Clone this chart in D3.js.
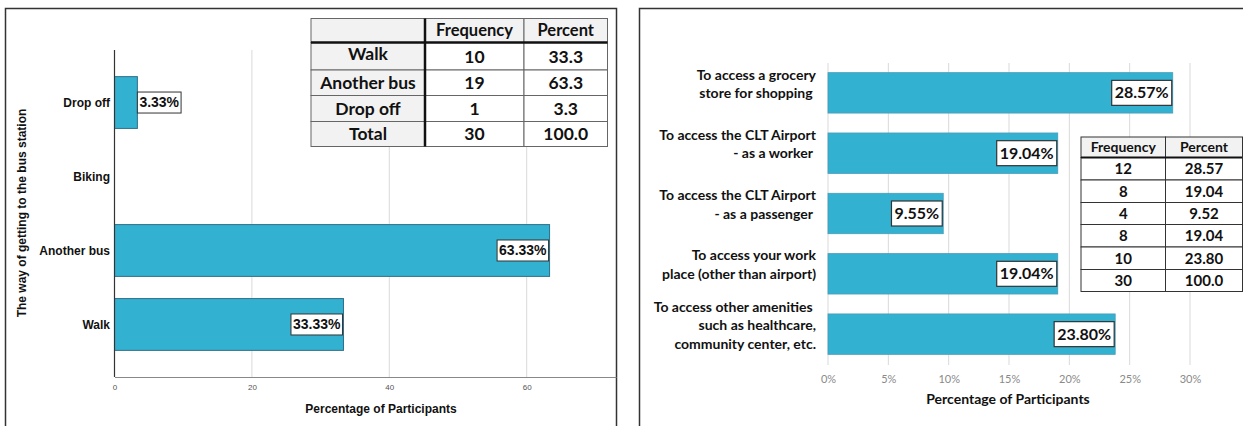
<!DOCTYPE html>
<html>
<head>
<meta charset="utf-8">
<script src="https://cdn.jsdelivr.net/npm/d3@7"></script>
<style>
  html, body { margin: 0; padding: 0; background: #fff; }
  svg { display: block; }
</style>
</head>
<body>
<div id="chart"></div>
<script>
// Données panneau gauche
const leftCategories = ["Drop off", "Biking", "Another bus", "Walk"];
const leftValues = [3.33, 0, 63.33, 33.33];
const leftTicks = [0, 20, 40, 60];
const leftTableHeader = ["", "Frequency", "Percent"];
const leftTableLabels = ["Walk", "Another bus", "Drop off", "Total"];
const leftTableFreq = ["10", "19", "1", "30"];
const leftTablePct = ["33.3", "63.3", "3.3", "100.0"];

// Données panneau droit
const rightCategories = [
  ["To access a grocery", "store for shopping "],
  ["To access the CLT Airport", "- as a worker "],
  ["To access the CLT Airport", "- as a passenger "],
  ["To access your work", "place (other than airport)"],
  ["To access other amenities ", "such as healthcare,", "community center, etc."]
];
const rightValues = [28.57, 19.04, 9.55, 19.04, 23.80];
const rightTicks = [0, 5, 10, 15, 20, 25, 30];
const rightTableHeader = ["Frequency", "Percent"];
const rightTableFreq = ["12", "8", "4", "8", "10", "30"];
const rightTablePct = ["28.57", "19.04", "9.52", "19.04", "23.80", "100.0"];

const barColor = "#33b1d0";
const barStroke = "#2f6f88";
const arial = "'Liberation Sans', Arial, sans-serif";
const calibri = "Lato, 'Open Sans', sans-serif";

const svg = d3.select("#chart")
  .append("svg")
  .attr("width", 1243)
  .attr("height", 426);

svg.append("rect").attr("width", 1243).attr("height", 426).attr("fill", "#fff");

//---------------------------------------------------------------------------------------
// Panneau gauche

const gL = svg.append("g");

gL.append("rect")
  .attr("x", 5.5).attr("y", 8.5)
  .attr("width", 611).attr("height", 430)
  .attr("fill", "none").attr("stroke", "#333").attr("stroke-width", 1.5);

const xL = d3.scaleLinear().domain([0, 73]).range([114.5, 616]);
const yL = d3.scaleBand().domain(leftCategories).range([50, 377])
  .paddingInner(0.3).paddingOuter(0.36);

// lignes de grille
gL.append("g")
  .selectAll("line")
  .data(leftTicks.filter(d => d > 0))
  .join("line")
  .attr("x1", d => xL(d)).attr("x2", d => xL(d))
  .attr("y1", 50).attr("y2", 377)
  .attr("stroke", "#d9d9d9").attr("stroke-width", 1);

// axe X
gL.append("g")
  .attr("transform", `translate(0, 377)`)
  .call(d3.axisBottom(xL).tickValues(leftTicks).tickSize(0).tickPadding(7))
  .call(g => g.select(".domain").attr("stroke", "#888").attr("stroke-width", 1.2))
  .selectAll("text")
  .attr("fill", "#555")
  .style("font-family", arial)
  .style("font-size", "8px");

// barres
gL.append("g")
  .selectAll("rect")
  .data(leftValues.map((v, i) => ({ cat: leftCategories[i], v })).filter(d => d.v > 0))
  .join("rect")
  .attr("x", xL(0))
  .attr("y", d => yL(d.cat))
  .attr("width", d => xL(d.v) - xL(0))
  .attr("height", yL.bandwidth())
  .attr("fill", barColor)
  .attr("stroke", barStroke)
  .attr("stroke-width", 1);

// axe Y
gL.append("line")
  .attr("x1", xL(0)).attr("x2", xL(0))
  .attr("y1", 50).attr("y2", 377)
  .attr("stroke", "#333").attr("stroke-width", 1.2);

gL.append("g")
  .selectAll("text")
  .data(leftCategories)
  .join("text")
  .attr("x", 110)
  .attr("y", d => yL(d) + yL.bandwidth() / 2)
  .attr("dy", "0.35em")
  .attr("text-anchor", "end")
  .style("font-family", arial)
  .style("font-size", "12px")
  .style("font-weight", "bold")
  .attr("fill", "#111")
  .text(d => d);

// étiquettes de valeurs
const labL = gL.append("g")
  .selectAll("g")
  .data(leftValues.map((v, i) => ({ cat: leftCategories[i], v })).filter(d => d.v > 0))
  .join("g");

labL.append("text")
  .style("font-family", arial)
  .style("font-size", "14px")
  .style("font-weight", "bold")
  .attr("fill", "#111")
  .attr("dy", "0.35em")
  .text(d => d.v.toFixed(2) + "%");

labL.each(function (d) {
  const g = d3.select(this);
  const w = g.select("text").node().getComputedTextLength() + 4;
  const h = 21;
  const end = xL(d.v);
  const inside = end - xL(0) > w + 4;
  const x0 = inside ? end - 1 - w : end;
  const cy = yL(d.cat) + yL.bandwidth() / 2;
  g.insert("rect", "text")
    .attr("x", x0).attr("y", cy - h / 2)
    .attr("width", w).attr("height", h)
    .attr("fill", "#fff").attr("stroke", "#333").attr("stroke-width", 1);
  g.select("text").attr("x", x0 + 2).attr("y", cy);
});

// titres des axes
gL.append("text")
  .attr("x", 381).attr("y", 413)
  .attr("text-anchor", "middle")
  .style("font-family", arial).style("font-size", "12px").style("font-weight", "bold")
  .attr("fill", "#111")
  .text("Percentage of Participants");

gL.append("text")
  .attr("transform", "translate(26, 213) rotate(-90)")
  .attr("text-anchor", "middle")
  .style("font-family", arial).style("font-size", "12px").style("font-weight", "bold")
  .attr("fill", "#111")
  .text("The way of getting to the bus station");

// tableau gauche
const colL = [311, 425, 524, 607.5];
const rowL = [18.5, 42.5, 70, 95.5, 121.5, 146.5];
const tL = gL.append("g");

const cellsL = [leftTableHeader].concat(leftTableLabels.map((l, i) => [l, leftTableFreq[i], leftTablePct[i]]));

cellsL.forEach((row, r) => {
  row.forEach((txt, c) => {
    tL.append("rect")
      .attr("x", colL[c]).attr("y", rowL[r])
      .attr("width", colL[c + 1] - colL[c]).attr("height", rowL[r + 1] - rowL[r])
      .attr("fill", r === 0 || c === 0 ? "#f2f2f2" : "#fff")
      .attr("stroke", "#666").attr("stroke-width", 1);
    tL.append("text")
      .attr("x", (colL[c] + colL[c + 1]) / 2)
      .attr("y", (rowL[r] + rowL[r + 1]) / 2 + (r === 1 && c === 0 ? -3 : 0))
      .attr("dy", "0.36em")
      .attr("text-anchor", "middle")
      .style("font-family", calibri)
      .style("font-size", r === 0 ? "16.5px" : "17.5px")
      .style("font-weight", "bold")
      .attr("fill", "#111")
      .text(txt);
  });
});

tL.append("line")
  .attr("x1", colL[0]).attr("x2", colL[3]).attr("y1", rowL[1]).attr("y2", rowL[1])
  .attr("stroke", "#111").attr("stroke-width", 2.5);
tL.append("line")
  .attr("x1", colL[1]).attr("x2", colL[1]).attr("y1", rowL[0]).attr("y2", rowL[5])
  .attr("stroke", "#111").attr("stroke-width", 2.5);

//---------------------------------------------------------------------------------------
// Panneau droit

const gR = svg.append("g");

gR.append("rect")
  .attr("x", 639.5).attr("y", 8.5)
  .attr("width", 640).attr("height", 430)
  .attr("fill", "none").attr("stroke", "#333").attr("stroke-width", 1.5);

const xR = d3.scaleLinear().domain([0, 30]).range([828, 1190]);
const keysR = rightCategories.map(d => d.join(" "));
const yR = d3.scaleBand().domain(keysR).range([63, 364])
  .paddingInner(0.33).paddingOuter(0.16);

// grille
gR.append("g")
  .selectAll("line")
  .data(rightTicks)
  .join("line")
  .attr("x1", d => xR(d)).attr("x2", d => xR(d))
  .attr("y1", 63).attr("y2", 365)
  .attr("stroke", "#d9d9d9").attr("stroke-width", 1);

// axe X
gR.append("g")
  .attr("transform", `translate(0, 365)`)
  .call(d3.axisBottom(xR).tickValues(rightTicks).tickSize(0).tickPadding(10).tickFormat(d => d + "%"))
  .call(g => g.select(".domain").remove())
  .selectAll("text")
  .attr("fill", "#8a8a8a")
  .style("font-family", calibri)
  .style("font-size", "11px");

// barres
gR.append("g")
  .selectAll("rect")
  .data(rightValues)
  .join("rect")
  .attr("x", xR(0))
  .attr("y", (d, i) => yR(keysR[i]))
  .attr("width", d => xR(d) - xR(0))
  .attr("height", yR.bandwidth())
  .attr("fill", barColor)
  .attr("stroke", "#4a9cb8")
  .attr("stroke-width", 0.8);

// étiquettes catégories (plusieurs lignes)
const catR = gR.append("g")
  .selectAll("text")
  .data(rightCategories)
  .join("text")
  .attr("text-anchor", "end")
  .style("font-family", calibri)
  .style("font-size", "14px")
  .style("font-weight", "bold")
  .attr("fill", "#111");

catR.each(function (lines, i) {
  const cy = yR(keysR[i]) + yR.bandwidth() / 2 - 9;
  const lh = 18.5;
  d3.select(this)
    .selectAll("tspan")
    .data(lines)
    .join("tspan")
    .attr("x", 816)
    .attr("y", (d, j) => cy + (j - (lines.length - 1) / 2) * lh)
    .attr("dy", "0.35em")
    .style("white-space", "pre")
    .text(d => d);
});

// étiquettes de valeurs
const labR = gR.append("g")
  .selectAll("g")
  .data(rightValues)
  .join("g");

labR.append("text")
  .style("font-family", calibri)
  .style("font-size", "16px")
  .style("font-weight", "bold")
  .attr("fill", "#111")
  .attr("dy", "0.35em")
  .text(d => d.toFixed(2) + "%");

labR.each(function (d, i) {
  const g = d3.select(this);
  const w = g.select("text").node().getComputedTextLength() + 6;
  const h = 25;
  const x0 = xR(d) - 1 - w;
  const cy = yR(keysR[i]) + yR.bandwidth() / 2;
  g.insert("rect", "text")
    .attr("x", x0).attr("y", cy - h / 2)
    .attr("width", w).attr("height", h)
    .attr("fill", "#fff").attr("stroke", "#333").attr("stroke-width", 1.2);
  g.select("text").attr("x", x0 + 3).attr("y", cy);
});

// titre axe X
gR.append("text")
  .attr("x", 1008).attr("y", 404)
  .attr("text-anchor", "middle")
  .style("font-family", calibri).style("font-size", "14px").style("font-weight", "bold")
  .attr("fill", "#111")
  .text("Percentage of Participants");

// tableau droit
const colR = [1081, 1165.5, 1250];
const rowR = [137, 157.5, 180, 202.5, 224.5, 247, 269.5, 291.5];
const tR = gR.append("g");

const cellsR = [rightTableHeader].concat(rightTableFreq.map((f, i) => [f, rightTablePct[i]]));

cellsR.forEach((row, r) => {
  row.forEach((txt, c) => {
    tR.append("rect")
      .attr("x", colR[c]).attr("y", rowR[r])
      .attr("width", colR[c + 1] - colR[c]).attr("height", rowR[r + 1] - rowR[r])
      .attr("fill", r === 0 ? "#f2f2f2" : "#fff")
      .attr("stroke", "#333").attr("stroke-width", 1);
    tR.append("text")
      .attr("x", c === 1 ? 1204 : (colR[c] + colR[c + 1]) / 2)
      .attr("y", (rowR[r] + rowR[r + 1]) / 2)
      .attr("dy", "0.36em")
      .attr("text-anchor", "middle")
      .style("font-family", calibri)
      .style("font-size", r === 0 ? "14px" : "15px")
      .style("font-weight", "bold")
      .attr("fill", "#111")
      .text(txt);
  });
});

tR.append("line")
  .attr("x1", colR[0]).attr("x2", colR[2]).attr("y1", rowR[1]).attr("y2", rowR[1])
  .attr("stroke", "#111").attr("stroke-width", 2);
tR.append("line")
  .attr("x1", 1242.5).attr("x2", 1242.5).attr("y1", rowR[0]).attr("y2", rowR[7])
  .attr("stroke", "#333").attr("stroke-width", 1);
</script>
</body>
</html>
